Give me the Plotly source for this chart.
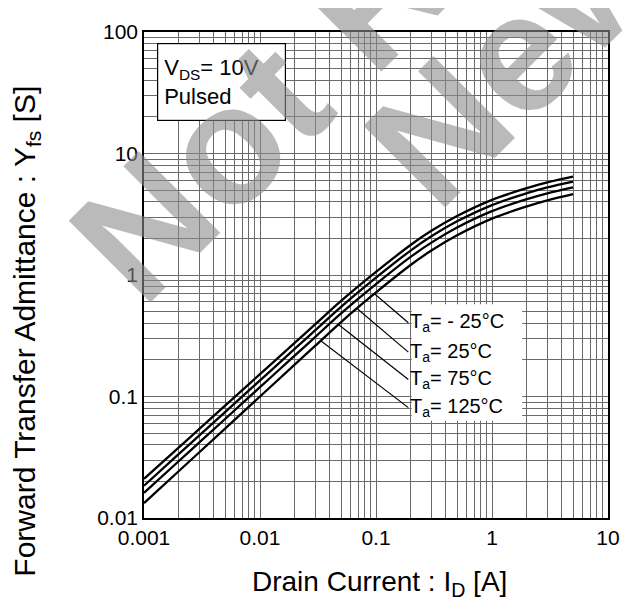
import numpy as np
import plotly.graph_objects as go

# ---- data ----
current_A = [0.001, 0.002, 0.003, 0.005, 0.01, 0.02, 0.03, 0.05, 0.1, 0.2, 0.3, 0.5, 1, 2, 3, 5]
yfs_125C = [0.0210, 0.0382, 0.0541, 0.0840, 0.1528, 0.2780, 0.3938, 0.6120, 1.060, 1.774, 2.310, 3.061, 4.155, 5.190, 5.778, 6.442]
yfs_75C = [0.01845, 0.03365, 0.04778, 0.07438, 0.1357, 0.2473, 0.3513, 0.5470, 0.9506, 1.595, 2.081, 2.764, 3.763, 4.714, 5.258, 5.875]
yfs_25C = [0.01611, 0.02944, 0.04188, 0.06531, 0.1193, 0.2180, 0.3098, 0.4831, 0.8412, 1.415, 1.848, 2.458, 3.353, 4.209, 4.699, 5.260]
yfs_m25C = [0.01327, 0.02438, 0.03478, 0.05443, 0.1000, 0.1837, 0.2620, 0.4102, 0.7180, 1.214, 1.590, 2.123, 2.911, 3.674, 4.116, 4.624]

series_names = ["Ta=125°C", "Ta=75°C", "Ta=25°C", "Ta=-25°C"]

x_tickvals = [0.001, 0.01, 0.1, 1, 10]
x_ticktext = ["0.001", "0.01", "0.1", "1", "10"]
y_tickvals = [0.01, 0.1, 1, 10, 100]
y_ticktext = ["0.01", "0.1", "1", "10", "100"]

label_texts = ["T<sub>a</sub>= - 25°C", "T<sub>a</sub>= 25°C", "T<sub>a</sub>= 75°C", "T<sub>a</sub>= 125°C"]
leader_start_x = [0.097, 0.0686, 0.0474, 0.0334]
label_x = 0.19
label_y = [0.405, 0.232, 0.138, 0.081]

FONT = "Liberation Sans, Arial, sans-serif"
GRID = "#6a6a6a"
WM = "rgba(140,140,140,0.6)"

minor_x = [m * 10.0 ** e for e in range(-3, 1) for m in range(2, 10)]
minor_y = [m * 10.0 ** e for e in range(-2, 2) for m in range(2, 10)]

fig = go.Figure()
for name, ys in zip(series_names, [yfs_125C, yfs_75C, yfs_25C, yfs_m25C]):
    fig.add_trace(go.Scatter(x=current_A, y=ys, mode="lines", name=name,
                             line=dict(color="black", width=2.3, shape="spline"),
                             showlegend=False, hoverinfo="skip"))

# leader lines from the lower curve to the labels
start_y = 10 ** np.interp(np.log10(leader_start_x), np.log10(current_A), np.log10(yfs_m25C))
for sx, sy, ly in zip(leader_start_x, start_y, label_y):
    fig.add_trace(go.Scatter(x=[sx, label_x], y=[sy, ly], mode="lines",
                             line=dict(color="black", width=1.2),
                             showlegend=False, hoverinfo="skip"))

# white patch behind labels
fig.add_shape(type="rect", xref="paper", yref="paper", x0=0.577, x1=0.815, y0=0.2, y1=0.44,
              fillcolor="white", line=dict(width=0), layer="above")

for t, ly in zip(label_texts, label_y):
    fig.add_annotation(x=np.log10(label_x), y=np.log10(ly), xref="x", yref="y", text=t,
                       showarrow=False, xanchor="left", yanchor="middle",
                       font=dict(family=FONT, size=20, color="black"))

# condition box
fig.add_annotation(xref="paper", yref="paper", x=0.027, y=0.978, xanchor="left", yanchor="top",
                   text="V<sub>DS</sub>= 10V<br>Pulsed", align="left", showarrow=False,
                   font=dict(family=FONT, size=22, color="black"),
                   bgcolor="white", bordercolor="black", borderwidth=1.2, borderpad=6,
                   width=115, height=64, valign="middle")

# axis titles
fig.add_annotation(xref="paper", yref="paper", x=0.508, y=-0.095, xanchor="center", yanchor="top",
                   text="Drain Current : I<sub>D</sub> [A]", showarrow=False,
                   font=dict(family=FONT, size=28, color="black"))
fig.add_annotation(xref="paper", yref="paper", x=-0.2526, y=0.385, xanchor="center", yanchor="middle",
                   text="Forward Transfer Admittance : Y<sub>fs</sub> [S]", showarrow=False, textangle=-90,
                   font=dict(family=FONT, size=30, color="black"))

# watermark
fig.add_annotation(xref="paper", yref="paper", x=0.25, y=0.837, text="<b>Not R</b>", showarrow=False,
                   textangle=-45, xanchor="center", yanchor="middle",
                   font=dict(family=FONT, size=168, color=WM))
fig.add_annotation(xref="paper", yref="paper", x=0.808, y=0.958, text="<b>New</b>", showarrow=False,
                   textangle=-45, xanchor="center", yanchor="middle",
                   font=dict(family=FONT, size=168, color=WM))

axis_common = dict(type="log", showgrid=True, gridcolor=GRID, gridwidth=1,
                   showline=True, linecolor="black", linewidth=1.5, mirror=True,
                   ticks="", zeroline=False,
                   tickfont=dict(family=FONT, size=21, color="black"))
fig.update_xaxes(range=[-3, 1], tickvals=x_tickvals, ticktext=x_ticktext,
                 minor=dict(tickvals=minor_x, showgrid=True, gridcolor=GRID, gridwidth=1),
                 **axis_common)
fig.update_yaxes(range=[-2, 2], tickvals=y_tickvals, ticktext=y_ticktext,
                 minor=dict(tickvals=minor_y, showgrid=True, gridcolor=GRID, gridwidth=1),
                 **axis_common)

# page body adds an 8px offset, so the figure is sized to fill the rest of the window
fig.update_layout(width=624, height=600, margin=dict(l=136, r=13, t=13, b=90),
                  plot_bgcolor="white", paper_bgcolor="white", showlegend=False)

fig.write_html("out.html")
